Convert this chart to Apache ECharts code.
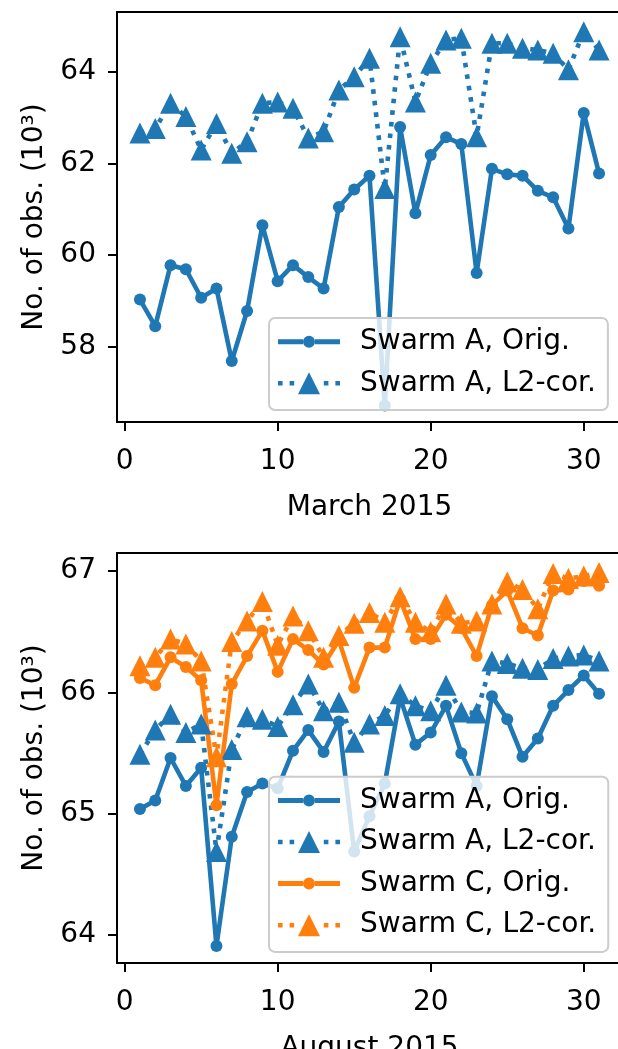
<!DOCTYPE html>
<html>
<head>
<meta charset="utf-8">
<script src="https://cdn.jsdelivr.net/npm/echarts@6.0.0/dist/echarts.min.js"></script>
<style>
  html, body { margin: 0; padding: 0; background: #fff; }
  #graph { width: 618px; height: 1049px; }
</style>
</head>
<body>
<div id="graph"></div>
<script>
// days of month
var days = [1,2,3,4,5,6,7,8,9,10,11,12,13,14,15,16,17,18,19,20,21,22,23,24,25,26,27,28,29,30,31];

// March 2015 (10^3 obs.)
var marchOrigA = [59.03,58.45,59.78,59.69,59.07,59.27,57.69,58.78,60.65,59.43,59.78,59.52,59.27,61.05,61.43,61.73,
                  56.72,62.79,60.91,62.18,62.57,62.42,59.61,61.88,61.76,61.73,61.40,61.26,60.58,63.10,61.78];
var marchL2A   = [62.66,62.76,63.31,63.02,62.29,62.87,62.22,62.47,63.31,63.34,63.20,62.55,62.69,63.60,63.89,64.29,
                  61.45,64.76,63.34,64.18,64.69,64.73,62.58,64.62,64.62,64.51,64.47,64.40,64.04,64.87,64.47];

// August 2015
var augOrigA = [65.04,65.11,65.46,65.23,65.38,63.91,64.81,65.18,65.25,65.21,65.52,65.69,65.51,65.76,64.69,64.98,
                65.25,65.96,65.57,65.67,65.89,65.50,65.23,65.97,65.78,65.47,65.62,65.89,66.02,66.14,65.99];
var augL2A   = [65.49,65.69,65.82,65.67,65.74,64.69,65.53,65.80,65.78,65.72,65.90,66.07,65.85,65.92,65.59,65.74,
                65.81,65.99,65.89,65.85,66.06,65.84,65.83,66.26,66.24,66.20,66.19,66.28,66.30,66.31,66.26];
var augOrigC = [66.12,66.06,66.29,66.21,66.10,65.07,66.07,66.30,66.51,66.17,66.44,66.35,66.23,66.43,66.04,66.37,
                66.37,66.77,66.44,66.44,66.64,66.53,66.30,66.72,66.84,66.53,66.47,66.84,66.85,66.92,66.88];
var augL2C   = [66.22,66.29,66.44,66.40,66.26,65.47,66.42,66.59,66.75,66.39,66.63,66.51,66.29,66.47,66.57,66.66,
                66.58,66.79,66.58,66.50,66.73,66.57,66.59,66.73,66.91,66.85,66.69,66.98,66.94,66.96,66.99];

// tick labels
var xTicks = [0, 10, 20, 30];
var yTicksTop = [58, 60, 62, 64];
var yTicksBottom = [64, 65, 66, 67];

var blue = '#1f77b4';
var orange = '#ff7f0e';
var font = 'DejaVu Sans';

// legend icons: line + marker like matplotlib
var origIcon = 'path://M0,3.5H25V8.5H0Z M37,3.5H62V8.5H37Z M25,6A6,6,0,1,1,37,6A6,6,0,1,1,25,6Z';
var l2Icon = 'path://M0,8.7H4.6V13.3H0Z M11.6,8.7H16.2V13.3H11.6Z M45.8,8.7H50.4V13.3H45.8Z M57.4,8.7H62V13.3H57.4Z M20,22L31,0L42,22Z';

function pairs(vals) {
    var out = [];
    for (var i = 0; i < days.length; i++) {
        out.push([days[i], vals[i]]);
    }
    return out;
}

function makeSeries(name, vals, color, dotted, idx) {
    return {
        name: name,
        type: 'line',
        xAxisIndex: idx * 2,
        yAxisIndex: idx,
        data: pairs(vals),
        symbol: dotted ? 'triangle' : 'circle',
        symbolSize: dotted ? 21 : 12,
        lineStyle: { color: color, width: 4.6, type: dotted ? [4.6, 7] : 'solid', cap: 'butt' },
        itemStyle: { color: color, borderWidth: 0 },
        emphasis: { disabled: true },
        animation: false
    };
}

function xAxis(idx, name) {
    return {
        type: 'value',
        gridIndex: idx,
        min: -0.5,
        max: 32.5,
        name: name,
        nameLocation: 'middle',
        nameGap: 72,
        nameTextStyle: { fontFamily: font, fontSize: 28, color: '#000' },
        axisLine: { show: true, onZero: false, lineStyle: { color: '#000', width: 2 } },
        axisTick: { show: true, length: 9, lineStyle: { color: '#000', width: 2 }, customValues: xTicks },
        axisLabel: { fontFamily: font, fontSize: 28, color: '#000', margin: 26, customValues: xTicks },
        splitLine: { show: false }
    };
}

// top spine only
function topSpine(idx) {
    return {
        type: 'value',
        gridIndex: idx,
        position: 'top',
        min: -0.5,
        max: 32.5,
        axisLine: { show: true, onZero: false, lineStyle: { color: '#000', width: 2 } },
        axisTick: { show: false },
        axisLabel: { show: false },
        splitLine: { show: false }
    };
}

function yAxis(idx, min, max, ticks) {
    return {
        type: 'value',
        gridIndex: idx,
        min: min,
        max: max,
        name: 'No. of obs. (10\u00b3)',
        nameLocation: 'middle',
        nameRotate: 90,
        nameGap: 68,
        nameTextStyle: { fontFamily: font, fontSize: 28, color: '#000' },
        axisLine: { show: true, onZero: false, lineStyle: { color: '#000', width: 2 } },
        axisTick: { show: true, length: 9, lineStyle: { color: '#000', width: 2 }, customValues: ticks },
        axisLabel: { fontFamily: font, fontSize: 28, color: '#000', margin: 21, customValues: ticks },
        splitLine: { show: false }
    };
}

function legend(top, items) {
    return {
        orient: 'vertical',
        left: 269,
        top: top,
        padding: [8.7, 12, 11.7, 9],
        itemWidth: 62,
        itemHeight: 22,
        itemGap: 11.6,
        selectedMode: false,
        backgroundColor: 'rgba(255,255,255,0.8)',
        borderColor: '#cccccc',
        borderWidth: 2,
        borderRadius: 6,
        itemStyle: { borderWidth: 0 },
        textStyle: { fontFamily: font, fontSize: 28, color: '#000', lineHeight: 30, padding: [0, 0, 0, 15] },
        data: items
    };
}

var dom = document.getElementById('graph');
var myChart = echarts.init(dom, null, { renderer: 'canvas' });

var option = {
    backgroundColor: '#fff',
    animation: false,
    grid: [
        { left: 117, top: 12, right: -4, height: 410, outerBoundsMode: 'none', containLabel: false },
        { left: 117, top: 553, right: -4, height: 410, outerBoundsMode: 'none', containLabel: false }
    ],
    xAxis: [ xAxis(0, 'March 2015'), topSpine(0), xAxis(1, 'August 2015'), topSpine(1) ],
    yAxis: [ yAxis(0, 56.36, 65.3, yTicksTop), yAxis(1, 63.77, 67.15, yTicksBottom) ],
    legend: [
        legend(318, [
            { name: 'Swarm A, Orig.', icon: origIcon },
            { name: 'Swarm A, L2-cor.', icon: l2Icon }
        ]),
        legend(776.7, [
            { name: 'Swarm A, Orig.', icon: origIcon },
            { name: 'Swarm A, L2-cor.', icon: l2Icon },
            { name: 'Swarm C, Orig.', icon: origIcon },
            { name: 'Swarm C, L2-cor.', icon: l2Icon }
        ])
    ],
    series: [
        makeSeries('Swarm A, Orig.', marchOrigA, blue, false, 0),
        makeSeries('Swarm A, L2-cor.', marchL2A, blue, true, 0),
        makeSeries('Swarm A, Orig.', augOrigA, blue, false, 1),
        makeSeries('Swarm A, L2-cor.', augL2A, blue, true, 1),
        makeSeries('Swarm C, Orig.', augOrigC, orange, false, 1),
        makeSeries('Swarm C, L2-cor.', augL2C, orange, true, 1)
    ]
};

if (option && typeof option === "object") {
    myChart.setOption(option, true);
}
</script>
</body>
</html>
